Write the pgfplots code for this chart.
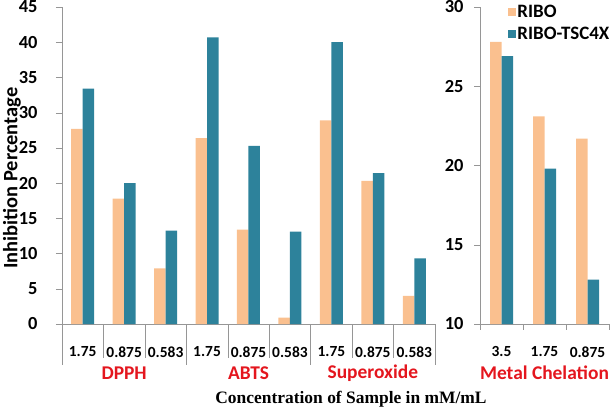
\documentclass[border=0pt]{standalone}
\usepackage{pgfplots}
\pgfplotsset{compat=1.18}
\usepackage{fontspec}
\setmainfont{Carlito}
\newfontfamily\titlefont{Liberation Serif}
\definecolor{ribo}{RGB}{250,192,143}
\definecolor{tsc}{RGB}{45,130,155}
\definecolor{grp}{RGB}{228,22,30}
\definecolor{axgray}{RGB}{150,150,150}
\pgfplotsset{
  common/.style={
    scale only axis,
    ybar=0pt, bar width=11.5bp,
    axis x line*=bottom, axis y line*=left,
    axis line style={axgray,-},
    xtick style={draw=none},
    ytick style={axgray},
    tick align=outside, major tick length=6bp,
    /pgf/number format/assume math mode=true,
    y tick label style={font=\fontsize{18.5}{20}\selectfont\bfseries},
    x tick label style={font=\fontsize{15.5}{17}\selectfont\bfseries, yshift=-13bp},
    clip=false,
  }
}
\begin{document}
\begin{tikzpicture}[x=1bp,y=1bp]
\useasboundingbox (-62bp,-84bp) rectangle (549bp,324bp);
\begin{axis}[common,
  at={(0bp,0bp)}, anchor=south west,
  width=373bp, height=317bp,
  xmin=-0.5, xmax=8.5, ymin=0, ymax=45,
  ytick={0,5,...,45},
  y tick label style={xshift=-15bp},
  xtick={0,...,8},
  xticklabels={1.75,0.875,0.583,1.75,0.875,0.583,1.75,0.875,0.583},
  ylabel={Inhibition Percentage},
  ylabel style={font=\fontsize{20.5}{22}\selectfont\bfseries, at={(axis description cs:-0.134,0.46)}, anchor=center},
]
\addplot[fill=ribo, draw=none] coordinates {(0,27.7) (1,17.8) (2,7.9) (3,26.4) (4,13.4) (5,0.9) (6,28.9) (7,20.3) (8,4.0)};
\addplot[fill=tsc, draw=none] coordinates {(0,33.4) (1,20.0) (2,13.25) (3,40.7) (4,25.3) (5,13.1) (6,40.0) (7,21.4) (8,9.3)};
\pgfplotsinvokeforeach{0.5,1.5,3.5,4.5,6.5,7.5}{\draw[axgray] (axis cs:#1,0) -- ++(0bp,-34bp);}
\pgfplotsinvokeforeach{-0.5,2.5,5.5,8.5}{\draw[axgray] (axis cs:#1,0) -- ++(0bp,-41bp);}
\node[font=\fontsize{19.5}{21}\selectfont\bfseries, text=grp, yshift=-49bp] at (axis cs:1,0) {DPPH};
\node[font=\fontsize{19.5}{21}\selectfont\bfseries, text=grp, yshift=-49bp] at (axis cs:4,0) {ABTS};
\node[font=\fontsize{19.5}{21}\selectfont\bfseries, text=grp, yshift=-49bp] at (axis cs:7,0) {Superoxide};
\end{axis}
\begin{axis}[common,
  at={(418bp,0bp)}, anchor=south west,
  width=129bp, height=317bp,
  xmin=-0.5, xmax=2.5, ymin=10, ymax=30,
  ytick={10,15,...,30},
  y tick label style={xshift=-7bp},
  xtick={0,1,2},
  xticklabels={3.5,1.75,0.875},
  legend style={at={(axis description cs:0.215,1.012)}, anchor=north west, draw=none, fill=none,
     font=\fontsize{19}{20}\selectfont\bfseries, row sep=5bp, inner sep=0pt,
     nodes={inner sep=1.5bp}},
  legend cell align=left,
  legend image code/.code={\fill[#1,draw=none] (0bp,-4bp) rectangle (8bp,4bp);},
]
\addplot[fill=ribo, draw=none] coordinates {(0,27.8) (1,23.1) (2,21.7)};
\addplot[fill=tsc, draw=none] coordinates {(0,26.9) (1,19.8) (2,12.8)};
\legend{RIBO,RIBO-TSC4X}
\pgfplotsinvokeforeach{-0.5,0.5,1.5,2.5}{\draw[axgray] (axis cs:#1,10) -- ++(0bp,-6bp);}
\node[font=\fontsize{19.5}{21}\selectfont\bfseries, text=grp, yshift=-49bp] at (axis cs:1,10) {Metal Chelation};
\end{axis}
\node[font=\titlefont\fontsize{17.5}{19}\selectfont\bfseries] at (289bp,-75bp) {Concentration of Sample in mM/mL};
\end{tikzpicture}
\end{document}
